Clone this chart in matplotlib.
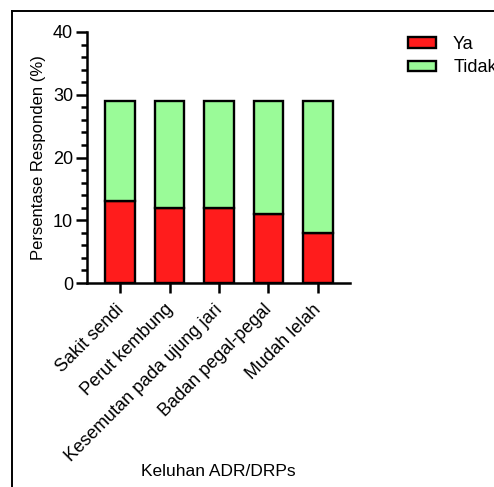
import matplotlib
matplotlib.use("Agg")
import matplotlib.pyplot as plt
from matplotlib.lines import Line2D
from matplotlib.ticker import MultipleLocator
from matplotlib.transforms import ScaledTranslation

categories = ["Sakit sendi", "Perut kembung", "Kesemutan pada ujung jari",
              "Badan pegal-pegal", "Mudah lelah"]
ya = [13, 12, 12, 11, 8]
tidak = [16, 17, 17, 18, 21]

plt.rcParams['font.family'] = ['Liberation Sans', 'DejaVu Sans']

fig = plt.figure(figsize=(4.94, 4.87), dpi=100)
ax = fig.add_axes([87/494, 1-283/487, (350-87)/494, (283-32)/487])

x = list(range(len(categories)))
ax.bar(x, ya, width=0.6, color='#ff1c1c', edgecolor='black', linewidth=1.7, label='Ya', zorder=2)
ax.bar(x, tidak, width=0.6, bottom=ya, color='#9afb98', edgecolor='black', linewidth=1.7, label='Tidak', zorder=2)

ax.set_ylim(0, 40)
ax.set_xlim(-0.67, 4.65)
ax.yaxis.set_major_locator(MultipleLocator(10))
ax.yaxis.set_minor_locator(MultipleLocator(2))
for s in ['top', 'right']:
    ax.spines[s].set_visible(False)
for s in ['left', 'bottom']:
    ax.spines[s].set_linewidth(1.8)
ax.tick_params(axis='y', which='major', length=8, width=1.8, labelsize=13, pad=2)
ax.tick_params(axis='y', which='minor', length=4.5, width=1.8)
ax.tick_params(axis='x', which='major', length=7, width=1.8, pad=3)
ax.set_xticks(x)
ax.set_xticklabels(categories, rotation=45, ha='right', rotation_mode='anchor', fontsize=13)
off = ScaledTranslation(-5/100, -4/100, fig.dpi_scale_trans)
for lab in ax.get_xticklabels():
    lab.set_transform(lab.get_transform() + off)
ax.set_ylabel("Persentase Responden (%)", fontsize=12, labelpad=5)
ax.set_xlabel("Keluhan ADR/DRPs", fontsize=12.5)
ax.xaxis.set_label_coords(0.5, (283-472)/251)
ax.xaxis.label.set_verticalalignment('center')

leg = fig.legend(loc='upper left', bbox_to_anchor=(408/494, 1-36/487), frameon=False,
                 fontsize=13, handlelength=1.55, handleheight=0.5, handletextpad=0.95,
                 labelspacing=0.35, borderaxespad=0, borderpad=0)
for p in leg.get_patches():
    p.set_linewidth(1.7)

fig.add_artist(Line2D([12/494, 12/494], [0, 1-11/487], color='black', linewidth=1.4, transform=fig.transFigure))
fig.add_artist(Line2D([12/494, 1], [1-11/487, 1-11/487], color='black', linewidth=1.4, transform=fig.transFigure))

fig.savefig("out.png", dpi=100)
